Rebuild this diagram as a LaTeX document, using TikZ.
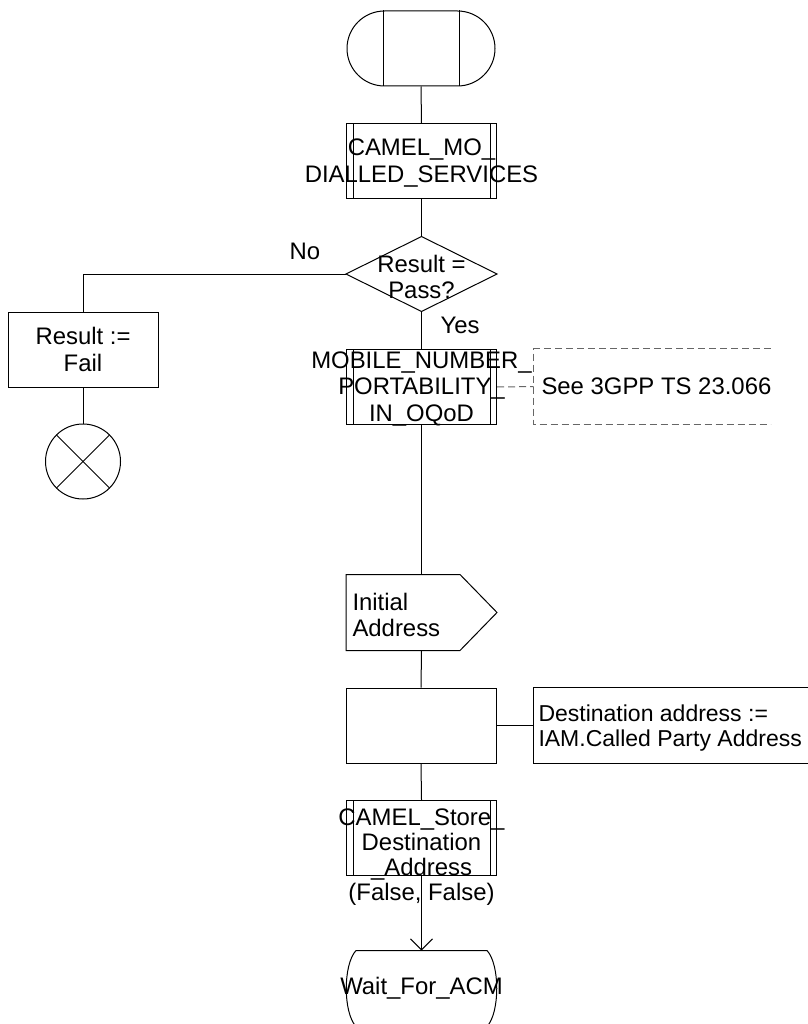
\documentclass[tikz,border=0pt]{standalone}
\usepackage{fontspec}
\setmainfont{Liberation Sans}
\usetikzlibrary{shapes.misc,arrows.meta}
\begin{document}
\begin{tikzpicture}[x=1pt,y=-1pt, line width=1pt,
  txt/.style={font=\fontsize{23.9}{26.5}\selectfont, inner sep=0pt, align=center},
  box/.style={draw, rectangle, minimum width=150, minimum height=75, inner sep=0pt},
  ghost/.style={rectangle, minimum width=150, minimum height=75, inner sep=0pt},
  cmt/.style={draw=gray!80!black, dash pattern=on 7pt off 4pt},
  procline/.style={draw}
]
\useasboundingbox (0,0) rectangle (807,1024);

% start terminal
\node[draw, rounded rectangle, minimum width=148, minimum height=75, inner sep=0pt] (start) at (421,48.5) {};
\draw ([xshift=-38]start.north) -- ([xshift=-38]start.south);
\draw ([xshift=38]start.north) -- ([xshift=38]start.south);

% procedure 1
\node[box] (p1) at (421.5,161.5) {};
\draw[procline] ([xshift=7]p1.north west) -- ([xshift=7]p1.south west);
\draw[procline] ([xshift=-7]p1.north east) -- ([xshift=-7]p1.south east);
\node[txt] (p1t) at (421.5,163) {CAMEL\_MO\_\\DIALLED\_SERVICES};

% decision
\node[ghost, minimum height=74] (dec) at (421.5,274) {};
\draw (dec.west) -- (dec.north) -- (dec.east) -- (dec.south) -- cycle;
\node[txt] (dect) at (421.5,277) {Result =\\Pass?};
\node[txt] (no) at (305,251) {No};
\node[txt] (yes) at (460,325) {Yes};

% fail branch
\node[box, txt] (fail) at (83,349.5) {Result :=\\Fail};
\node[draw, circle, minimum size=75, inner sep=0pt] (stop) at (83,461.5) {};
\draw (stop.north west) -- (stop.south east);
\draw (stop.north east) -- (stop.south west);

% MNP procedure
\node[box] (mnp) at (421.5,387) {};
\draw[procline] ([xshift=7]mnp.north west) -- ([xshift=7]mnp.south west);
\draw[procline] ([xshift=-7]mnp.north east) -- ([xshift=-7]mnp.south east);
\node[txt] (mnpt) at (421.5,389) {MOBILE\_NUMBER\_\\PORTABILITY\_\\IN\_OQoD};

% comment 1
\node[ghost, minimum width=236] (c1) at (652,386.5) {};
\draw[cmt] (c1.north east) -- (c1.north west) -- (c1.south west) -- (c1.south east);
\node[txt, anchor=west] (c1t) at (541,386.5) {See 3GPP TS 23.066};

% signal output
\node[ghost] (sig) at (421.5,612.5) {};
\draw (sig.north west) -- ([xshift=-37]sig.north east) -- (sig.east) -- ([xshift=-37]sig.south east) -- (sig.south west) -- cycle;
\node[txt, anchor=west, align=left] (sigt) at (352,615) {Initial\\Address};

% task
\node[box] (task) at (421,725.5) {};

% comment 2
\node[ghost, minimum width=273] (c2) at (670.5,725.5) {};
\draw (c2.north east) -- (c2.north west) -- (c2.south west) -- (c2.south east);
\node[txt, anchor=west, align=left, font=\fontsize{23}{24.5}\selectfont] (c2t) at (538,728) {Destination address :=\\IAM.Called Party Address};

% procedure 3
\node[box] (p3) at (421.5,838) {};
\draw[procline] ([xshift=7]p3.north west) -- ([xshift=7]p3.south west);
\draw[procline] ([xshift=-7]p3.north east) -- ([xshift=-7]p3.south east);
\node[txt, font=\fontsize{23.9}{25}\selectfont] (p3t) at (421.5,857.5) {CAMEL\_Store\_\\Destination\\\_Address\\(False, False)};

% state
\node[ghost] (st) at (421.5,988.5) {};
\draw ([xshift=10]st.north west) -- ([xshift=-10]st.north east)
  .. controls ([shift={(3,14)}]st.north east) and ([shift={(3,-14)}]st.south east) .. ([xshift=-10]st.south east)
  -- ([xshift=10]st.south west)
  .. controls ([shift={(-3,-14)}]st.south west) and ([shift={(-3,14)}]st.north west) .. ([xshift=10]st.north west);
\node[txt] (stt) at (421.5,988.5) {Wait\_For\_ACM};

% connectors
\draw (start.south) -- (p1.north);
\draw (p1.south) -- (dec.north);
\draw (dec.south) -- (mnp.north);
\draw (dec.west) -| (fail.north);
\draw (fail.south) -- (stop.north);
\draw[cmt] (mnp.east) -- (c1.west);
\draw (mnp.south) -- (sig.north);
\draw (sig.south) -- (task.north);
\draw (task.east) -- (c2.west);
\draw (task.south) -- (p3.north);
\draw[-{Straight Barb[length=11pt,width=22pt]}] (p3.south) -- (st.north);
\end{tikzpicture}
\end{document}
